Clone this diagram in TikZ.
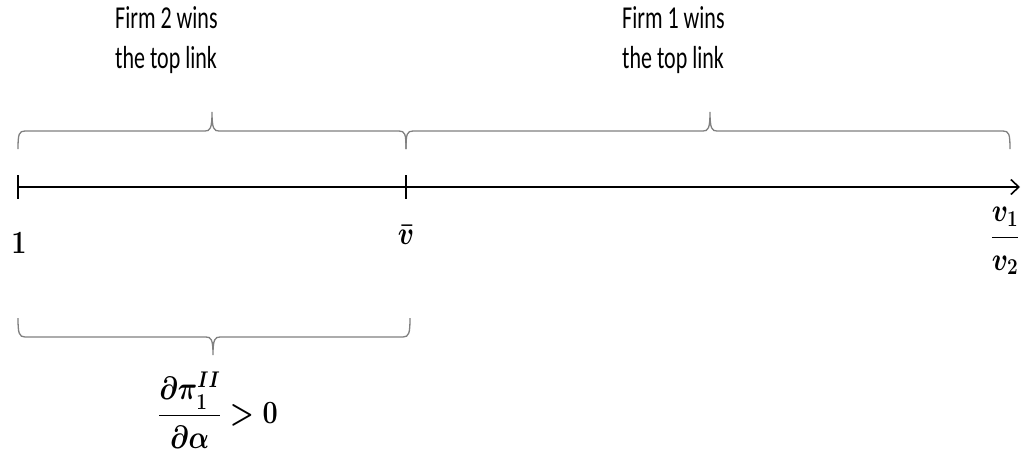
\RequirePackage{fix-cm}
\documentclass[tikz,border=0pt]{standalone}
\usepackage{amsmath}
\usepackage{fontspec}
\setmainfont{Carlito}
\usepackage{graphicx}
\usetikzlibrary{arrows.meta}
\newcommand{\vstr}[1]{\scalebox{1}[1.45]{#1}}
\newcommand{\mstr}[1]{\scalebox{1}[1.2]{\boldmath#1}}
\tikzset{
  lbl/.style={inner sep=0pt, text=black, font=\fontsize{22}{27.6}\selectfont},
  mlbl/.style={inner sep=0pt, text=black, font=\fontsize{27}{32}\selectfont},
  brace/.style={draw=black!50, line width=1.3pt},
  axis/.style={draw=black, line width=1.6pt},
}
\begin{document}
\begin{tikzpicture}[x=1pt,y=-1pt]
\useasboundingbox (0,0) rectangle (1029,464);
% axis
\coordinate (o) at (18,187);
\coordinate (vb) at (406,187);
\coordinate (end) at (1020,187);
\draw[axis, -{Straight Barb[length=8pt,width=15pt]}] (o) -- (end);
\draw[axis] (o) ++(0,-12) -- ++(0,24);
\draw[axis] (vb) ++(0,-12) -- ++(0,24);
% top braces
\draw[brace] (18,149) .. controls (18,134) and (19,131) .. (25,131) -- (205,131)
  .. controls (210,131) and (212,129) .. (212,112)
  .. controls (212,129) and (214,131) .. (219,131) -- (399,131)
  .. controls (405,131) and (406,134) .. (406,149);
\draw[brace] (406,149) .. controls (406,134) and (407,131) .. (413,131) -- (703,131)
  .. controls (708,131) and (710,129) .. (710,112)
  .. controls (710,129) and (712,131) .. (717,131) -- (1003,131)
  .. controls (1009,131) and (1010,134) .. (1010,149);
% bottom brace
\draw[brace] (18,318) .. controls (18,333) and (19,337) .. (25,337) -- (206,337)
  .. controls (211,337) and (213,339) .. (213,355)
  .. controls (213,339) and (215,337) .. (220,337) -- (403,337)
  .. controls (409,337) and (410,333) .. (410,318);
% labels
\node[lbl, anchor=north west] (t2) at (115,0) {\vstr{\begin{tabular}{@{}l@{}}Firm 2 wins\\the top link\end{tabular}}};
\node[lbl, anchor=north west] (t1) at (622,0) {\vstr{\begin{tabular}{@{}l@{}}Firm 1 wins\\the top link\end{tabular}}};
\node[mlbl] (one) at (19,243) {\mstr{$1$}};
\node[mlbl] (vbar) at (406,235) {\mstr{$\bar v$}};
\node[mlbl] (ratio) at (1005,241) {\mstr{$\dfrac{v_1}{v_2}$}};
\node[mlbl] (deriv) at (218,410) {\mstr{$\dfrac{\partial\pi_1^{II}}{\partial\alpha}>0$}};
\end{tikzpicture}
\end{document}
